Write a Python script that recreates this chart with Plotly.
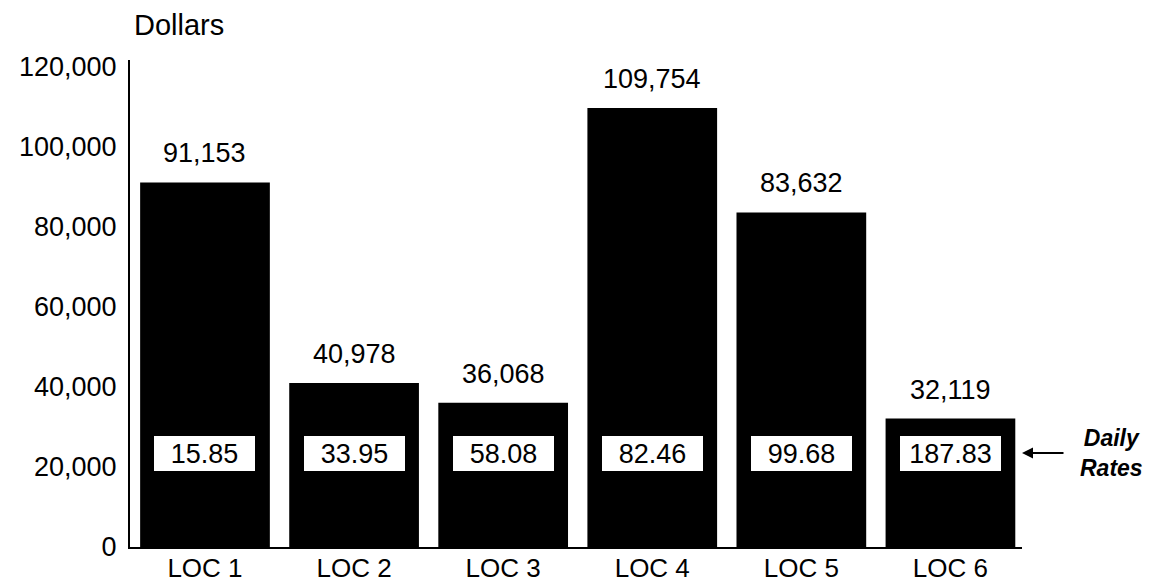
import plotly.graph_objects as go

categories = ["LOC 1", "LOC 2", "LOC 3", "LOC 4", "LOC 5", "LOC 6"]
dollars = [91153, 40978, 36068, 109754, 83632, 32119]
daily_rates = ["15.85", "33.95", "58.08", "82.46", "99.68", "187.83"]
y_ticks = [0, 20000, 40000, 60000, 80000, 100000, 120000]
y_tick_labels = ["0", "20,000", "40,000", "60,000", "80,000", "100,000", "120,000"]
rate_level = 23500

FONT = "Liberation Sans, Arial, Helvetica, sans-serif"

fig = go.Figure()
fig.add_trace(go.Bar(
    x=list(range(len(categories))), y=dollars,
    marker=dict(color="black", line=dict(width=0)),
    width=0.87, hoverinfo="skip",
))

annotations = []
for i, v in enumerate(dollars):
    annotations.append(dict(
        x=i, y=v, xref="x", yref="y", text=f"{v:,}", showarrow=False,
        yanchor="middle", yshift=29, font=dict(size=27, color="black", family=FONT),
    ))
for i, r in enumerate(daily_rates):
    annotations.append(dict(
        x=i, y=rate_level, xref="x", yref="y", text=r, showarrow=False,
        bgcolor="white", width=97, height=31, borderpad=2, borderwidth=0,
        font=dict(size=27, color="black", family=FONT),
    ))
annotations.append(dict(
    x=0, xref="paper", xanchor="left", xshift=2, y=1.072, yref="paper",
    yanchor="middle", text="Dollars", showarrow=False,
    font=dict(size=29, color="black", family=FONT),
))
annotations.append(dict(
    x=1.1, xref="paper", xanchor="center", y=rate_level, yref="y",
    yanchor="middle", text="<b><i>Daily<br>Rates</i></b>",
    showarrow=False, align="center", font=dict(size=23, color="black", family=FONT),
))
annotations.append(dict(
    x=1.0, xref="paper", y=rate_level, yref="y", text="", showarrow=True,
    ax=43, ay=0, arrowhead=2, arrowsize=1, arrowwidth=2.2, arrowcolor="black",
    xshift=0,
))

fig.update_layout(
    width=1157, height=588,
    margin=dict(l=130, r=135, t=60, b=41),
    plot_bgcolor="white", paper_bgcolor="white",
    showlegend=False, bargap=0.13,
    font=dict(family=FONT, color="black"),
    annotations=annotations,
    xaxis=dict(
        range=[-0.503, 5.48], tickmode="array",
        tickvals=list(range(len(categories))), ticktext=categories,
        showline=True, linecolor="black", linewidth=2, showgrid=False,
        zeroline=False, ticks="", tickfont=dict(size=26, color="black", family=FONT),
        ticklabelstandoff=-3, automargin=False,
    ),
    yaxis=dict(
        range=[0, 121750], tickmode="array", tickvals=y_ticks, ticktext=y_tick_labels,
        showline=True, linecolor="black", linewidth=2, showgrid=False,
        zeroline=False, ticks="", tickfont=dict(size=27, color="black", family=FONT),
        ticklabelstandoff=6, automargin=False,
    ),
)

fig.write_html("out.html")
